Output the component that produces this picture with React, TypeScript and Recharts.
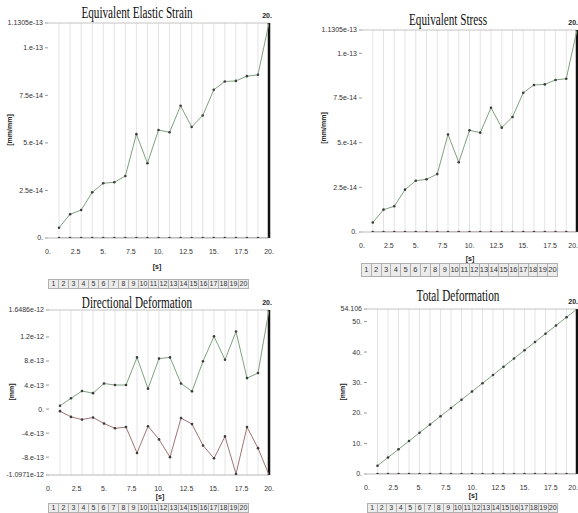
import React from "react";
import { LineChart, Line, XAxis, YAxis, ReferenceLine } from "recharts";

// time steps [s]
const timeSteps = [1, 2, 3, 4, 5, 6, 7, 8, 9, 10, 11, 12, 13, 14, 15, 16, 17, 18, 19, 20];

const xTicks = [0, 2.5, 5, 7.5, 10, 12.5, 15, 17.5, 20];
const xTickLabels = ["0.", "2.5", "5.", "7.5", "10.", "12.5", "15.", "17.5", "20."];

// Equivalent Elastic Strain [mm/mm]
const strainMax = [
  0.54e-14, 1.25e-14, 1.47e-14, 2.4e-14, 2.88e-14, 2.93e-14, 3.26e-14, 5.46e-14, 3.93e-14, 5.68e-14,
  5.56e-14, 6.95e-14, 5.84e-14, 6.44e-14, 7.79e-14, 8.23e-14, 8.26e-14, 8.51e-14, 8.58e-14, 11.305e-14,
];
const strainMin = [0, 0, 0, 0, 0, 0, 0, 0, 0, 0, 0, 0, 0, 0, 0, 0, 0, 0, 0, 0];
const strainTicks = [0, 2.5e-14, 5e-14, 7.5e-14, 1e-13, 1.1305e-13];
const strainTickLabels = ["0.", "2.5e-14", "5.e-14", "7.5e-14", "1.e-13", "1.1305e-13"];

// Equivalent Stress
const stressMax = [
  0.53e-14, 1.25e-14, 1.44e-14, 2.37e-14, 2.87e-14, 2.95e-14, 3.24e-14, 5.46e-14, 3.9e-14, 5.69e-14,
  5.56e-14, 6.95e-14, 5.84e-14, 6.44e-14, 7.79e-14, 8.23e-14, 8.26e-14, 8.51e-14, 8.58e-14, 11.305e-14,
];
const stressMin = [0, 0, 0, 0, 0, 0, 0, 0, 0, 0, 0, 0, 0, 0, 0, 0, 0, 0, 0, 0];
const stressTicks = [0, 2.5e-14, 5e-14, 7.5e-14, 1e-13, 1.1305e-13];
const stressTickLabels = ["0.", "2.5e-14", "5.e-14", "7.5e-14", "1.e-13", "1.1305e-13"];

// Directional Deformation [mm]
const dirMax = [
  0.55e-13, 1.8e-13, 3.0e-13, 2.65e-13, 4.25e-13, 4.0e-13, 4.0e-13, 8.6e-13, 3.4e-13, 8.4e-13,
  8.6e-13, 4.25e-13, 2.95e-13, 7.95e-13, 12.1e-13, 8.2e-13, 12.9e-13, 5.15e-13, 6.0e-13, 16.486e-13,
];
const dirMin = [
  -0.35e-13, -1.3e-13, -1.75e-13, -1.4e-13, -2.4e-13, -3.2e-13, -3.0e-13, -7.3e-13, -2.85e-13, -5.05e-13,
  -8.0e-13, -1.5e-13, -2.5e-13, -6.05e-13, -8.2e-13, -4.55e-13, -10.8e-13, -3.0e-13, -6.5e-13, -10.971e-13,
];
const dirTicks = [-1.0971e-12, -8e-13, -4e-13, 0, 4e-13, 8e-13, 1.2e-12, 1.6486e-12];
const dirTickLabels = ["-1.0971e-12", "-8.e-13", "-4.e-13", "0.", "4.e-13", "8.e-13", "1.2e-12", "1.6486e-12"];

// Total Deformation [mm]
const totalMax = [
  2.71, 5.41, 8.12, 10.82, 13.53, 16.23, 18.94, 21.64, 24.35, 27.05,
  29.76, 32.46, 35.17, 37.87, 40.58, 43.28, 45.99, 48.7, 51.4, 54.106,
];
const totalMin = [0, 0, 0, 0, 0, 0, 0, 0, 0, 0, 0, 0, 0, 0, 0, 0, 0, 0, 0, 0];
const totalTicks = [0, 10, 20, 30, 40, 50, 54.106];
const totalTickLabels = ["0.", "10.", "20.", "30.", "40.", "50.", "54.106"];

const TICK_FONT = "'Liberation Sans Narrow', 'Liberation Sans', Arial, sans-serif";
const GREEN = "#7ea27e";
const RED = "#a07474";

const lookup = (ticks: number[], labels: string[]) => (v: number) => {
  const i = ticks.findIndex((t) => Math.abs(t - v) <= Math.abs(t) * 1e-6 + 1e-30);
  return i >= 0 ? labels[i] : String(v);
};

interface PanelProps {
  plot: { x: number; y: number; w: number; h: number };
  max: number[];
  min: number[];
  yTicks: number[];
  yTickLabels: string[];
  edge?: boolean; // panel touches the right border of the picture
}

const Y_W = 50;
const TOP = 16;
const X_H = 16;

const Panel: React.FC<PanelProps> = ({ plot, max, min, yTicks, yTickLabels, edge }) => {
  const data = timeSteps.map((t, i) => ({ t, max: max[i], min: min[i] }));
  const yMin = yTicks[0];
  const yMax = yTicks[yTicks.length - 1];
  const dot = { r: 1.3, fill: "#3c3c3c", stroke: "none" };
  const xLabel = lookup(xTicks, xTickLabels);

  const XTick = (props: any) => {
    const { x, y, payload } = props;
    const last = payload.value === 20;
    return (
      <text
        x={edge && last ? x + 1 : x}
        y={y + 8}
        textAnchor={edge && last ? "end" : "middle"}
        fontSize={7}
        fill="#333"
        fontFamily={TICK_FONT}
      >
        {xLabel(payload.value)}
      </text>
    );
  };

  const MarkerLabel = (props: any) => {
    const { viewBox } = props;
    return (
      <text
        x={edge ? viewBox.x + 1 : viewBox.x - 2}
        y={viewBox.y - 5}
        textAnchor={edge ? "end" : "middle"}
        fontSize={7}
        fontWeight={700}
        fill="#222"
        fontFamily={TICK_FONT}
      >
        20.
      </text>
    );
  };

  return (
    <div style={{ position: "absolute", left: plot.x - Y_W, top: plot.y - TOP }}>
      <LineChart
        width={plot.w + Y_W + 8}
        height={plot.h + TOP + X_H}
        data={data}
        margin={{ top: TOP, right: 8, bottom: 0, left: 0 }}
      >
        <XAxis
          type="number"
          dataKey="t"
          domain={[0, 20]}
          ticks={xTicks}
          interval={0}
          height={X_H}
          tickLine={false}
          axisLine={{ stroke: "#b8b8b8" }}
          tick={<XTick />}
          allowDataOverflow
        />
        <YAxis
          type="number"
          domain={[yMin, yMax]}
          ticks={yTicks}
          tickFormatter={lookup(yTicks, yTickLabels)}
          interval={0}
          width={Y_W}
          axisLine={false}
          tickLine={{ stroke: "#999" }}
          tickSize={3}
          tickMargin={2}
          tick={{ fontSize: 7, fill: "#333", fontFamily: TICK_FONT }}
          allowDataOverflow
        />
        {timeSteps.slice(0, 19).map((t) => (
          <ReferenceLine key={t} x={t} stroke="#e4e4e4" strokeWidth={1} />
        ))}
        <ReferenceLine y={yMax} stroke="#c4c4c4" strokeWidth={1} />
        <ReferenceLine x={20} stroke="#111" strokeWidth={2.5} label={<MarkerLabel />} />
        <Line type="linear" dataKey="min" stroke={RED} strokeWidth={1} dot={dot} isAnimationActive={false} />
        <Line type="linear" dataKey="max" stroke={GREEN} strokeWidth={1} dot={dot} isAnimationActive={false} />
      </LineChart>
    </div>
  );
};

const StepRow: React.FC<{ left: number; top: number; height: number; cell: number; fontSize: number }> = ({
  left,
  top,
  height,
  cell,
  fontSize,
}) => (
  <div style={{ position: "absolute", left, top, display: "flex", height }}>
    {timeSteps.map((t) => (
      <div
        key={t}
        style={{
          width: cell,
          height,
          boxSizing: "border-box",
          border: "1px solid #b0b0b0",
          marginLeft: -1,
          background: "#ececec",
          fontSize,
          lineHeight: `${height - 2}px`,
          textAlign: "center",
          color: "#333",
          fontFamily: TICK_FONT,
          overflow: "hidden",
          whiteSpace: "nowrap",
        }}
      >
        {t}
      </div>
    ))}
  </div>
);

const Title: React.FC<{ x: number; y: number; text: string }> = ({ x, y, text }) => (
  <text
    transform={`translate(${x},${y}) scale(0.7,1)`}
    textAnchor="middle"
    fontFamily="'Liberation Serif', 'Times New Roman', serif"
    fontSize={16}
    fill="#111"
  >
    {text}
  </text>
);

const AxisName: React.FC<{ x: number; y: number; text: string; rotate?: boolean }> = ({ x, y, text, rotate }) => (
  <text
    transform={`translate(${x},${y})${rotate ? " rotate(-90)" : ""}`}
    textAnchor="middle"
    dominantBaseline="middle"
    fontFamily={TICK_FONT}
    fontSize={7}
    fontWeight={700}
    fill="#222"
  >
    {text}
  </text>
);

export default function App() {
  return (
    <div
      style={{
        position: "absolute",
        left: 0,
        top: 0,
        width: 578,
        height: 513,
        overflow: "hidden",
        background: "#fff",
      }}
    >
      <Panel plot={{ x: 48, y: 23, w: 221, h: 215 }} max={strainMax} min={strainMin} yTicks={strainTicks} yTickLabels={strainTickLabels} />
      <Panel plot={{ x: 362, y: 30, w: 215, h: 202 }} max={stressMax} min={stressMin} yTicks={stressTicks} yTickLabels={stressTickLabels} edge />
      <Panel plot={{ x: 49, y: 310, w: 220, h: 165 }} max={dirMax} min={dirMin} yTicks={dirTicks} yTickLabels={dirTickLabels} />
      <Panel plot={{ x: 367, y: 309, w: 210, h: 165 }} max={totalMax} min={totalMin} yTicks={totalTicks} yTickLabels={totalTickLabels} edge />

      <StepRow left={49} top={279} height={10} cell={11} fontSize={7} />
      <StepRow left={362} top={263} height={14} cell={10.8} fontSize={7.5} />
      <StepRow left={49} top={503} height={10} cell={11} fontSize={7} />
      <StepRow left={368} top={503} height={10} cell={10.5} fontSize={7} />

      <svg width={578} height={513} style={{ position: "absolute", left: 0, top: 0, pointerEvents: "none" }}>
        <Title x={137} y={18} text="Equivalent Elastic Strain" />
        <Title x={448} y={25} text="Equivalent Stress" />
        <Title x={137} y={308} text="Directional Deformation" />
        <Title x={458} y={301} text="Total Deformation" />

        <AxisName x={157} y={267} text="[s]" />
        <AxisName x={470} y={259} text="[s]" />
        <AxisName x={160} y={497} text="[s]" />
        <AxisName x={473} y={496} text="[s]" />

        <AxisName x={10} y={130} text="[mm/mm]" rotate />
        <AxisName x={324} y={128} text="[mm/mm]" rotate />
        <AxisName x={12} y={392} text="[mm]" rotate />
        <AxisName x={343} y={392} text="[mm]" rotate />
      </svg>
    </div>
  );
}
